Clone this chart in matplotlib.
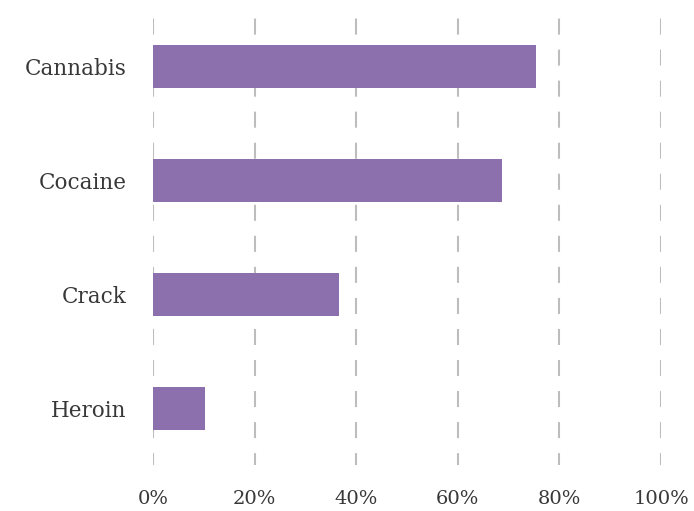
import matplotlib
matplotlib.use('Agg')
import matplotlib.pyplot as plt

drugs = ['Cannabis', 'Cocaine', 'Crack', 'Heroin']
shares = [75.4, 68.7, 36.6, 10.2]
ticks = [0, 20, 40, 60, 80, 100]
tick_labels = ['0%', '20%', '40%', '60%', '80%', '100%']

fig = plt.figure(figsize=(6.94, 5.11), dpi=100)
ax = fig.add_axes([153 / 694, 1 - 465 / 511, 508 / 694, 455 / 511])

pos = list(range(len(drugs)))
ax.barh(pos, shares, height=0.38, color='#8c70ae', zorder=2)

# dashed vertical gridlines
for t in ticks:
    ax.axvline(t, color='#bdbdbd', linewidth=1.5, linestyle=(2, (7.7, 7.2)), zorder=1)

ax.set_xlim(0, 100)
ax.set_ylim(len(drugs) - 0.5, -0.5)
ax.set_xticks(ticks)
ax.set_xticklabels(tick_labels)
ax.set_yticks(pos)
ax.set_yticklabels(drugs)
ax.tick_params(length=0, labelcolor='#383838')
ax.tick_params(axis='x', pad=18, labelsize=14)
ax.tick_params(axis='y', pad=19, labelsize=15.5)
for lab in ax.get_xticklabels() + ax.get_yticklabels():
    lab.set_family('DejaVu Serif')
for s in ax.spines.values():
    s.set_visible(False)
ax.patch.set_alpha(0)

fig.savefig('out.png', dpi=100, facecolor='white')
